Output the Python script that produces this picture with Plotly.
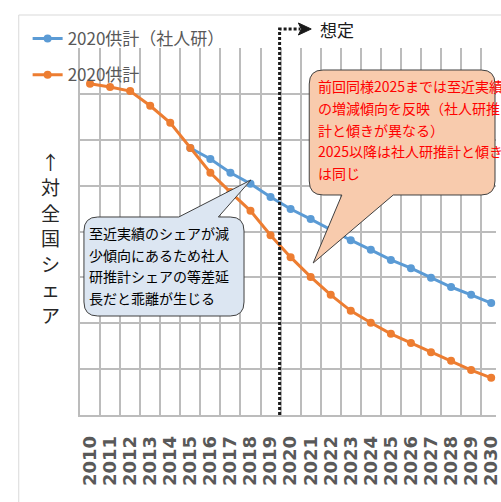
import plotly.graph_objects as go

years = [str(y) for y in range(2010, 2031)]
share_2020 = [7.22, 7.15, 7.06, 6.74, 6.37, 5.82, 5.28, 4.86, 4.45, 3.92, 3.44,
              3.01, 2.62, 2.27, 2.01, 1.77, 1.57, 1.37, 1.18, 0.98, 0.81]
years_ipss = [str(y) for y in range(2015, 2031)]
share_ipss = [5.82, 5.58, 5.28, 5.04, 4.75, 4.49, 4.27, 4.04, 3.81, 3.60, 3.38,
              3.20, 2.99, 2.79, 2.62, 2.44]

name_ipss = "2020供計（社人研）"
name_2020 = "2020供計"
y_title = "↑対全国シェア"
label_future = "想定"
note_blue = ["至近実績のシェアが減", "少傾向にあるため社人", "研推計シェアの等差延", "長だと乖離が生じる"]
note_red = ["前回同様2025までは至近実績", "の増減傾向を反映（社人研推", "計と傾きが異なる）",
            "2025以降は社人研推計と傾き", "は同じ"]

W, H = 501, 502
ML, MR, MT, MB = 80, 0, 48, 87
PW, PH = W - ML - MR, H - MT - MB


def px(x):
    return (x - ML) / PW


def py(y):
    return (H - MB - y) / PH


def pt(x, y):
    return f"{px(x):.5f},{py(y):.5f}"


JP = "Noto Sans CJK JP"
BLUE = "#5b9bd5"
ORANGE = "#ed7d31"

fig = go.Figure()
fig.add_trace(go.Scatter(x=years_ipss, y=share_ipss, name=name_ipss, mode="lines+markers",
                         line=dict(color=BLUE, width=3), marker=dict(size=8, color=BLUE),
                         legendgroup="a"))
fig.add_trace(go.Scatter(x=years, y=share_2020, name=name_2020, mode="lines+markers",
                         line=dict(color=ORANGE, width=3), marker=dict(size=8, color=ORANGE),
                         legendgroup="b"))

shapes = []
# chart border
shapes.append(dict(type="rect", xref="paper", yref="paper", x0=px(18), y0=py(15), x1=px(530), y1=py(530),
                   line=dict(color="#d9d9d9", width=1), fillcolor="rgba(0,0,0,0)", layer="below"))


def callout_top_tail(x0, y0, x1, y1, r, bx0, bx1, ax, ay):
    return ("M " + pt(x0 + r, y0) + " L " + pt(bx0, y0) + " L " + pt(ax, ay) + " L " + pt(bx1, y0) +
            " L " + pt(x1 - r, y0) + " Q " + pt(x1, y0) + " " + pt(x1, y0 + r) +
            " L " + pt(x1, y1 - r) + " Q " + pt(x1, y1) + " " + pt(x1 - r, y1) +
            " L " + pt(x0 + r, y1) + " Q " + pt(x0, y1) + " " + pt(x0, y1 - r) +
            " L " + pt(x0, y0 + r) + " Q " + pt(x0, y0) + " " + pt(x0 + r, y0) + " Z")


def callout_bottom_tail(x0, y0, x1, y1, r, bx0, bx1, ax, ay):
    return ("M " + pt(x0 + r, y0) + " L " + pt(x1 - r, y0) + " Q " + pt(x1, y0) + " " + pt(x1, y0 + r) +
            " L " + pt(x1, y1 - r) + " Q " + pt(x1, y1) + " " + pt(x1 - r, y1) +
            " L " + pt(bx1, y1) + " L " + pt(ax, ay) + " L " + pt(bx0, y1) +
            " L " + pt(x0 + r, y1) + " Q " + pt(x0, y1) + " " + pt(x0, y1 - r) +
            " L " + pt(x0, y0 + r) + " Q " + pt(x0, y0) + " " + pt(x0 + r, y0) + " Z")


# dotted "assumption" marker
shapes.append(dict(type="path", xref="paper", yref="paper",
                   path="M " + pt(282, 415) + " L " + pt(282, 29) + " L " + pt(303, 29),
                   line=dict(color="#1a1a1a", width=3, dash="3px,2px")))
shapes.append(dict(type="path", xref="paper", yref="paper",
                   path="M " + pt(301, 23) + " L " + pt(314, 29) + " L " + pt(301, 35) + " L " + pt(304, 29) + " Z",
                   fillcolor="#1a1a1a", line=dict(color="#1a1a1a", width=1)))

shapes.append(dict(type="path", xref="paper", yref="paper",
                   path=callout_top_tail(84, 217, 246, 316, 14, 180, 220, 253, 180),
                   fillcolor="#dce6f2", line=dict(color="#404040", width=1)))
shapes.append(dict(type="path", xref="paper", yref="paper",
                   path=callout_bottom_tail(312, 70, 500, 195, 14, 345, 397, 316, 263),
                   fillcolor="#f8cbad", line=dict(color="#404040", width=1)))

annotations = []
for i, ch in enumerate(y_title):
    annotations.append(dict(text=ch, xref="paper", yref="paper",
                            x=px(50), y=py(161 + 25.5 * i), xanchor="center", yanchor="middle",
                            showarrow=False, font=dict(family=JP, size=19, color="#262626")))
annotations.append(dict(text=label_future, xref="paper", yref="paper", x=px(321), y=py(30),
                        xanchor="left", yanchor="middle", showarrow=False,
                        font=dict(family=JP, size=17, color="#1a1a1a")))
for i, line in enumerate(note_blue):
    annotations.append(dict(text=line, xref="paper", yref="paper", x=px(87), y=py(233 + 21.7 * i),
                            xanchor="left", yanchor="middle", showarrow=False,
                            font=dict(family=JP, size=14, color="#000000")))
for i, line in enumerate(note_red):
    annotations.append(dict(text=line, xref="paper", yref="paper", x=px(319), y=py(86 + 21.8 * i),
                            xanchor="left", yanchor="middle", showarrow=False,
                            font=dict(family=JP, size=14, color="#ff0000")))

fig.update_layout(
    width=W, height=H, margin=dict(l=ML, r=MR, t=MT, b=MB),
    paper_bgcolor="white", plot_bgcolor="white",
    showlegend=True,
    legend=dict(x=px(27), y=py(21), xanchor="left", yanchor="top", bgcolor="rgba(0,0,0,0)",
                font=dict(family=JP, size=17, color="#595959"), tracegroupgap=11,
                traceorder="grouped"),
    shapes=shapes, annotations=annotations,
    xaxis=dict(type="category", categoryorder="array", categoryarray=years,
               range=[-0.5, 20.24], tickson="boundaries", showgrid=True, dtick=1,
               tickmode="array", tickvals=years, ticktext=years,
               gridcolor="#bcbcbc", gridwidth=1.5, ticks="", tickangle=-90,
               tickfont=dict(family="DejaVu Sans", size=18, color="#595959", weight="bold"),
               showline=True, linecolor="#bcbcbc", linewidth=1.5, ticklabelstandoff=12),
    yaxis=dict(range=[0, 8], dtick=1, showgrid=True, gridcolor="#bcbcbc", gridwidth=1.5,
               showticklabels=False, zeroline=False, showline=True, linecolor="#bcbcbc", linewidth=1.5),
)

fig.write_html("out.html")
